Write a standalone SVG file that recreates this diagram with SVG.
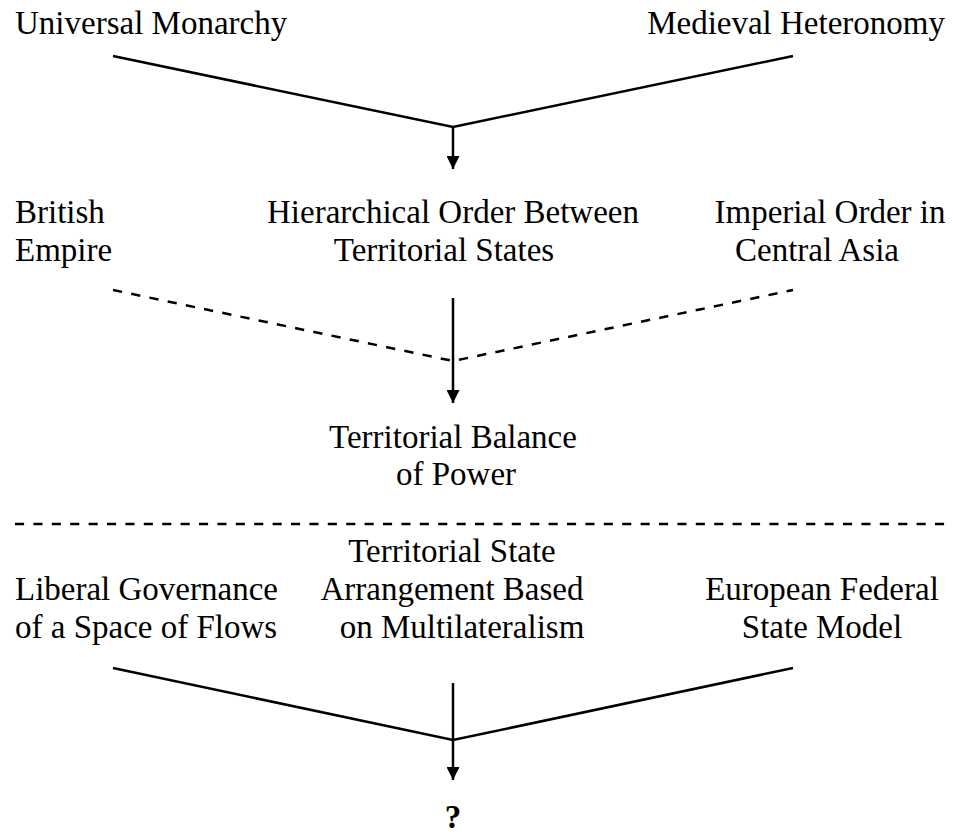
<svg xmlns="http://www.w3.org/2000/svg" width="953" height="837" viewBox="0 0 953 837">
<style>
text{font-size:33px;fill:#000}
.c{text-anchor:middle}
.r{text-anchor:end}
.ln{stroke:#000;stroke-width:2.5;fill:none}
.d{stroke-dasharray:9.3 9.3}
.h{stroke-dasharray:9.1 9.3}
</style>
<defs>
<marker id="ah" viewBox="0 0 10 10" refX="10" refY="5" markerWidth="5.2" markerHeight="5.2" markerUnits="strokeWidth" orient="auto">
<path d="M0,0 L10,5 L0,10 Z" fill="#000"/>
</marker>
</defs>
<rect width="953" height="837" fill="#fff"/>
<g font-family="'Liberation Serif', 'Times New Roman', 'DejaVu Serif', serif">
<g id="universal-monarchy"><text x="15" y="34">Universal Monarchy</text></g>
<g id="medieval-heteronomy"><text class="r" x="945" y="34">Medieval Heteronomy</text></g>
<g id="british-empire"><text x="15" y="223">British</text><text x="15" y="261">Empire</text></g>
<g id="hierarchical-order"><text class="c" x="453" y="223">Hierarchical Order Between</text><text class="c" x="444" y="261">Territorial States</text></g>
<g id="imperial-order"><text class="c" x="830" y="223">Imperial Order in</text><text class="c" x="817" y="261">Central Asia</text></g>
<g id="balance-of-power"><text class="c" x="453" y="448">Territorial Balance</text><text class="c" x="456" y="485">of Power</text></g>
<g id="liberal-governance"><text x="15" y="600">Liberal Governance</text><text x="15" y="638">of a Space of Flows</text></g>
<g id="multilateralism"><text class="c" x="452" y="562">Territorial State</text><text class="c" x="452" y="600">Arrangement Based</text><text class="c" x="462" y="638">on Multilateralism</text></g>
<g id="european-federal"><text class="c" x="822" y="600">European Federal</text><text class="c" x="822" y="638">State Model</text></g>
<g id="question"><text class="c" x="453" y="828" font-weight="bold">?</text></g>
</g>
<g id="connectors">
<polyline class="ln" points="113,56 453,127 793,56"/>
<line class="ln" x1="453" y1="127" x2="453" y2="169" marker-end="url(#ah)"/>
<polyline class="ln d" points="113,290 453,361 793,290"/>
<line class="ln" x1="453" y1="298" x2="453" y2="403" marker-end="url(#ah)"/>
<line class="ln h" x1="15" y1="524" x2="945" y2="524"/>
<polyline class="ln" points="113,668 453,740 793,668"/>
<line class="ln" x1="453" y1="683" x2="453" y2="780" marker-end="url(#ah)"/>
</g>
</svg>
